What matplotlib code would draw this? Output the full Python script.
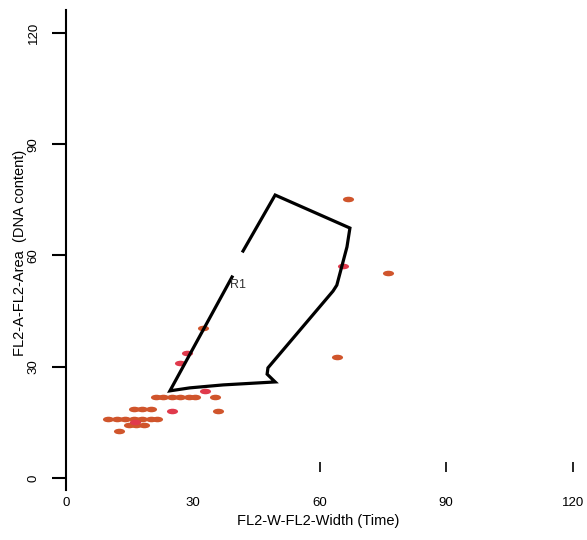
import numpy as np
import matplotlib
matplotlib.use("Agg")
import matplotlib.pyplot as plt
from matplotlib.path import Path
from matplotlib.transforms import Affine2D

plt.rcParams['font.family'] = ['Liberation Sans', 'DejaVu Sans']

# events (FL2-W, FL2-A)
orange_x = [21.2, 23.0, 25.0, 27.0, 29.0, 30.5, 35.3,
            16.2, 18.0, 20.0, 36.0,
            10.0, 12.0, 14.0, 16.0, 18.0, 20.0, 21.5,
            15.0, 16.5, 18.5,
            12.5, 66.7, 76.2, 64.1, 32.4]
orange_y = [21.8, 21.8, 21.8, 21.8, 21.8, 21.8, 21.8,
            18.6, 18.6, 18.6, 18.1,
            15.9, 15.9, 15.9, 15.9, 15.9, 15.9, 15.9,
            14.3, 14.3, 14.3,
            12.7, 75.2, 55.3, 32.6, 40.5]
red_x = [32.9, 25.1, 16.3, 28.6, 27.0, 65.6]
red_y = [23.5, 18.1, 15.1, 33.7, 31.0, 57.2]

# gate R1 (open polyline)
gate_x = [41.9, 49.5, 67.2, 66.5, 64.1, 63.2, 47.8, 47.6, 49.5, 37.2, 29.3, 24.6, 39.3]
gate_y = [61.2, 76.3, 67.4, 62.3, 52.0, 50.4, 29.7, 28.0, 25.9, 25.1, 24.3, 23.5, 54.2]

ticks = [0, 30, 60, 90, 120]

fig = plt.figure(figsize=(5.87, 5.40), dpi=100)
ax = fig.add_axes([66 / 587, 50 / 540, 507 / 587, 480 / 540])

# elongated dot marker
dash = Path.unit_circle().transformed(Affine2D().scale(1.0, 0.5))

ax.scatter(orange_x, orange_y, marker=dash, s=64, color='#d0552c', linewidths=0, zorder=2)
ax.scatter(red_x, red_y, marker=dash, s=64, color='#e03a4c', linewidths=0, zorder=2)

ax.plot(gate_x, gate_y, color='black', lw=2.3, solid_joinstyle='miter', zorder=3)
ax.text(38.8, 52.0, 'R1', fontsize=9, color='#333333', va='center', ha='left')

ax.set_xlim(0, 120)
ax.set_ylim(-3.24, 126.2)

for s in ['top', 'right']:
    ax.spines[s].set_visible(False)
ax.spines['left'].set_linewidth(1.5)
ax.spines['bottom'].set_position(('data', 1.6))
ax.spines['bottom'].set_visible(False)

ax.set_xticks(ticks)
ax.set_yticks(ticks)
ax.tick_params(axis='x', direction='in', length=7.2, width=1.2, pad=18, labelsize=9.5)
ax.tick_params(axis='y', direction='out', length=10, width=1.5, pad=9, labelsize=9.5, labelrotation=90)
for lab in ax.get_yticklabels():
    lab.set_va('center')
xt = ax.xaxis.get_major_ticks()
xt[0].tick1line.set_visible(False)
xt[1].tick1line.set_visible(False)

ax.set_xlabel('FL2-W-FL2-Width (Time)', fontsize=10.5)
ax.xaxis.set_label_coords(0.497, -0.05)
ax.set_ylabel('FL2-A-FL2-Area  (DNA content)', fontsize=10.5)
ax.yaxis.set_label_coords(-0.077, 0.494)

fig.savefig('out.png', dpi=100)
